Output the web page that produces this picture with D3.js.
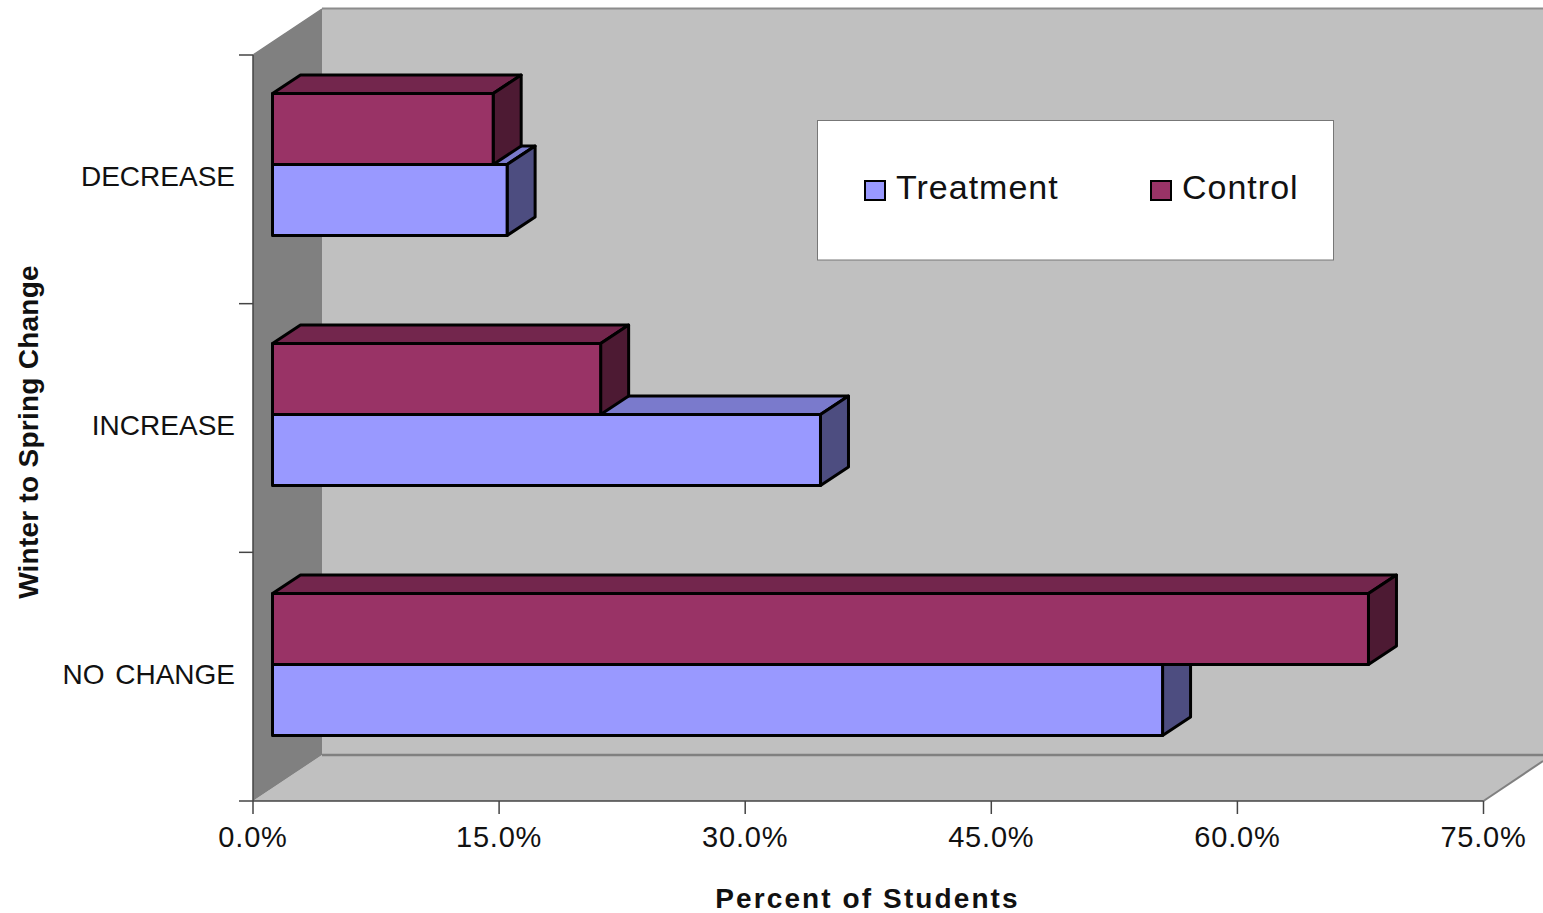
<!DOCTYPE html>
<html>
<head>
<meta charset="utf-8">
<script src="https://cdn.jsdelivr.net/npm/d3@7"></script>
<style>
html,body{margin:0;padding:0;background:#fff;overflow:hidden}
svg{display:block}
text{font-family:"Liberation Sans",Arial,sans-serif;fill:#111}
</style>
</head>
<body>
<svg id="chart" width="1543" height="913"></svg>
<script>
const categories = ["DECREASE", "INCREASE", "NO CHANGE"];
const treatment = [14.3, 33.4, 54.25];
const control = [13.45, 20.0, 66.8];
const xTicks = [0, 15, 30, 45, 60, 75];

const width = 1543, height = 913;
const plot = {left: 253, right: 1483.5, top: 55, bottom: 801};
const depth = {x: 69, y: 46};
const barDepth = {x: 28, y: 18.5};

const svg = d3.select("#chart");

// Value axis along the front edge of the floor, and the same scale pushed into the box for bars
const x = d3.scaleLinear().domain([0, 75]).range([plot.left, plot.right]);
const xBar = x.copy().range([272.5, 272.5 + plot.right - plot.left]);
const y = d3.scaleBand().domain(categories).range([plot.top, plot.bottom]);
const yBar = d3.scaleBand().domain(categories).range([39.5, 789.5]);
const barH = 71;

const poly = pts => pts.map(p => p.join(",")).join(" ");

// Box walls
const walls = svg.append("g");
walls.append("polygon")
  .attr("points", poly([[322, 9], [width, 9], [width, 755], [322, 755]]))
  .attr("fill", "#c0c0c0");
walls.append("polygon")
  .attr("points", poly([[plot.left, plot.bottom], [plot.left + depth.x, 755], [width, 755], [width, 761], [plot.right, plot.bottom]]))
  .attr("fill", "#c0c0c0");
walls.append("polygon")
  .attr("points", poly([[plot.left, plot.top], [plot.left + depth.x, 9], [plot.left + depth.x, 755], [plot.left, plot.bottom]]))
  .attr("fill", "#808080");
walls.append("line").attr("x1", 322).attr("x2", width).attr("y1", 8.5).attr("y2", 8.5).attr("stroke", "#8c8c8c").attr("stroke-width", 2);
walls.append("line").attr("x1", 322).attr("x2", width).attr("y1", 755).attr("y2", 755).attr("stroke", "#808080").attr("stroke-width", 2.5);
walls.append("line").attr("x1", plot.right).attr("y1", plot.bottom).attr("x2", width).attr("y2", 761).attr("stroke", "#808080").attr("stroke-width", 2);
walls.append("line").attr("x1", plot.left).attr("y1", plot.top).attr("x2", 322).attr("y2", 9).attr("stroke", "#808080").attr("stroke-width", 1.5);

// One extruded bar: top, side, then front face
function drawBar(g, value, top, colors) {
  const x0 = xBar(0), x1 = xBar(value), b = top + barH;
  const dx = barDepth.x, dy = barDepth.y;
  const face = g.append("g").attr("stroke", "#000").attr("stroke-width", 3).attr("stroke-linejoin", "round");
  face.append("polygon").attr("points", poly([[x0, top], [x0 + dx, top - dy], [x1 + dx, top - dy], [x1, top]])).attr("fill", colors.top);
  face.append("polygon").attr("points", poly([[x1, top], [x1 + dx, top - dy], [x1 + dx, b - dy], [x1, b]])).attr("fill", colors.side);
  face.append("rect").attr("x", x0).attr("y", top).attr("width", x1 - x0).attr("height", barH).attr("fill", colors.front);
}

const treatmentColors = {front: "#9999ff", top: "#7a7acc", side: "#4d4d80"};
const controlColors = {front: "#993366", top: "#73264d", side: "#4d1a33"};

const bars = svg.append("g");
categories.forEach((c, i) => {
  const mid = yBar(c) + yBar.bandwidth() / 2;
  drawBar(bars, treatment[i], mid, treatmentColors);
  drawBar(bars, control[i], mid - barH, controlColors);
});

// Axes
const axisColor = "#444";
const xAxis = svg.append("g");
xAxis.append("line").attr("x1", plot.left).attr("x2", plot.right).attr("y1", plot.bottom).attr("y2", plot.bottom).attr("stroke", axisColor).attr("stroke-width", 1.5);
xAxis.selectAll("line.tick").data(xTicks).join("line").attr("class", "tick")
  .attr("x1", d => x(d)).attr("x2", d => x(d)).attr("y1", plot.bottom).attr("y2", 814)
  .attr("stroke", axisColor).attr("stroke-width", 1.5);
xAxis.selectAll("text").data(xTicks).join("text")
  .attr("x", d => x(d)).attr("y", 847).attr("text-anchor", "middle")
  .attr("font-size", 29).attr("letter-spacing", 0.8)
  .text(d => d.toFixed(1) + "%");

const yAxis = svg.append("g");
yAxis.append("line").attr("x1", plot.left).attr("x2", plot.left).attr("y1", plot.top).attr("y2", plot.bottom).attr("stroke", axisColor).attr("stroke-width", 1.5);
const yEdges = [...categories.map(c => y(c)), plot.bottom];
yAxis.selectAll("line.tick").data(yEdges).join("line").attr("class", "tick")
  .attr("x1", 239).attr("x2", plot.left).attr("y1", d => d).attr("y2", d => d)
  .attr("stroke", axisColor).attr("stroke-width", 1.5);
yAxis.selectAll("text").data(categories).join("text")
  .attr("x", 235).attr("y", c => y(c) + y.bandwidth() / 2 + 7)
  .attr("text-anchor", "end").attr("font-size", 28).attr("word-spacing", 3)
  .text(c => c);

// Axis titles
svg.append("text").attr("x", 867.5).attr("y", 908).attr("text-anchor", "middle")
  .attr("font-size", 28).attr("font-weight", "bold").attr("letter-spacing", 2.1)
  .text("Percent of Students");
svg.append("text").attr("transform", "translate(38,432) rotate(-90)").attr("text-anchor", "middle")
  .attr("font-size", 28).attr("font-weight", "bold").attr("letter-spacing", 0.25)
  .text("Winter to Spring Change");

// Legend
const legend = svg.append("g");
legend.append("rect").attr("x", 817.5).attr("y", 120.5).attr("width", 516).attr("height", 139.5)
  .attr("fill", "#fff").attr("stroke", "#777").attr("stroke-width", 1);
const legendItems = [
  {name: "Treatment", fill: treatmentColors.front, swatch: 865, label: 896},
  {name: "Control", fill: controlColors.front, swatch: 1151, label: 1182}
];
legendItems.forEach(d => {
  legend.append("rect").attr("x", d.swatch).attr("y", 181).attr("width", 20).attr("height", 19)
    .attr("fill", d.fill).attr("stroke", "#000").attr("stroke-width", 2);
  legend.append("text").attr("x", d.label).attr("y", 199).attr("font-size", 34).attr("letter-spacing", 1)
    .text(d.name);
});
</script>
</body>
</html>
